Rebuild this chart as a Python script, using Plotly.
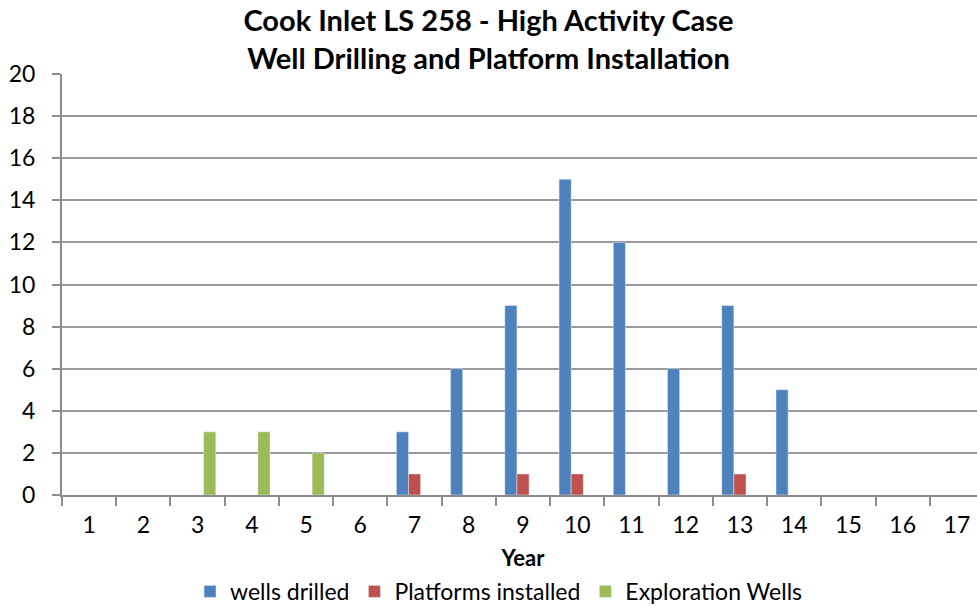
import plotly.graph_objects as go

years = [str(i) for i in range(1, 18)]
wells_drilled = [0, 0, 0, 0, 0, 0, 3, 6, 9, 15, 12, 6, 9, 5, 0, 0, 0]
platforms_installed = [0, 0, 0, 0, 0, 0, 1, 0, 1, 1, 0, 0, 1, 0, 0, 0, 0]
exploration_wells = [0, 0, 3, 3, 2, 0, 0, 0, 0, 0, 0, 0, 0, 0, 0, 0, 0]

FONT = "Lato"
fig = go.Figure()
fig.add_trace(go.Bar(x=years, y=wells_drilled, name="wells drilled", marker_color="#4F81BD"))
fig.add_trace(go.Bar(x=years, y=platforms_installed, name="Platforms installed", marker_color="#C0504D"))
fig.add_trace(go.Bar(x=years, y=exploration_wells, name="Exploration Wells", marker_color="#9BBB59"))

fig.update_layout(
    width=984, height=606,
    paper_bgcolor="white", plot_bgcolor="white",
    margin=dict(l=62, r=0, t=74, b=111, autoexpand=False),
    barmode="group", bargap=0.33, bargroupgap=0,
    font=dict(family=FONT, size=23, color="black"),
    title=dict(text="<b>Cook Inlet LS 258 - High Activity Case<br>Well Drilling and Platform Installation</b>",
               x=488.5 / 984, xref="container", xanchor="center", y=1 - 31 / 606, yref="container",
               yanchor="middle", font=dict(family=FONT, size=29, color="black")),
    legend=dict(orientation="h", x=0.474, xanchor="center", y=-0.178, yanchor="top",
                font=dict(family=FONT, size=23), itemwidth=30, traceorder="normal"),
    showlegend=True,
)
fig.update_xaxes(type="category", showgrid=False, showline=True, linecolor="#8c8c8c", linewidth=2,
                 ticks="outside", tickson="boundaries", ticklen=9, tickcolor="#8c8c8c", tickwidth=2,
                 ticklabelstandoff=8, automargin=False, tickfont=dict(family=FONT, size=23),
                 title=dict(text="<b>Year</b>", font=dict(family=FONT, size=22), standoff=14))
fig.update_yaxes(range=[0, 20], dtick=2, showgrid=True, gridcolor="#999999", gridwidth=2,
                 showline=True, linecolor="#8c8c8c", linewidth=2, ticks="outside", ticklen=8, tickwidth=2,
                 tickcolor="#8c8c8c", zeroline=False, ticklabelstandoff=12, automargin=False,
                 tickfont=dict(family=FONT, size=23))

fig.write_html("out.html", config={"displayModeBar": False},
               post_script="document.body.style.margin='0';document.body.style.overflow='hidden';")
